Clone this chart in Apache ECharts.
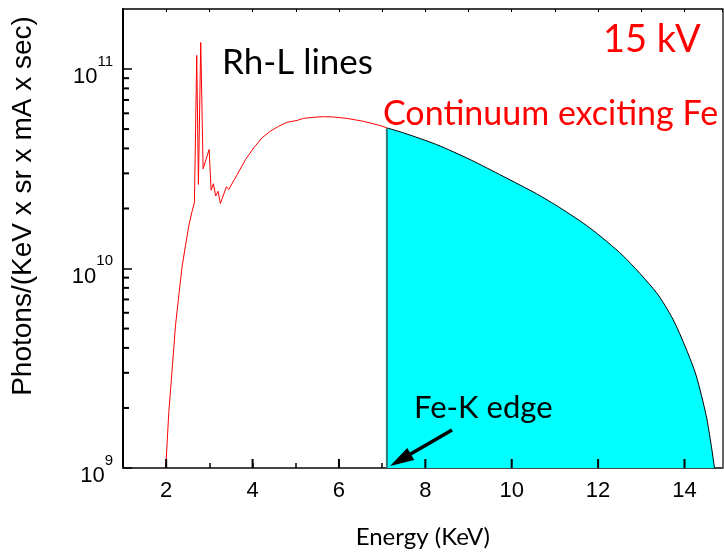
<!DOCTYPE html>
<html><head><meta charset="utf-8">
<script src="https://cdn.jsdelivr.net/npm/echarts@6/dist/echarts.min.js"></script>
<style>html,body{margin:0;padding:0;background:#fff}#c{width:724px;height:554px}</style>
</head><body><div id="c"></div>
<script>
// Red spectrum (below the Fe-K edge), keV and photons
const redEnergy = [1.99, 2.06, 2.139, 2.215, 2.291, 2.37, 2.446, 2.522, 2.601, 2.654, 2.707, 2.746, 2.80, 2.855, 2.994, 3.04, 3.093, 3.146, 3.20, 3.255, 3.394, 3.447, 3.645, 3.837, 4.029, 4.22, 4.41, 4.607, 4.80, 5.032, 5.18, 5.41, 5.642, 5.873, 6.18, 6.567, 6.952, 7.11];
const redIntensity = [1.0e9, 1.9e9, 3.14e9, 5.16e9, 7.3e9, 1.03e10, 1.30e10, 1.63e10, 1.94e10, 2.15e10, 1.17e11, 2.64e10, 1.36e11, 3.16e10, 3.95e10, 2.47e10, 2.66e10, 2.31e10, 2.44e10, 2.12e10, 2.57e10, 2.49e10, 2.96e10, 3.52e10, 4.03e10, 4.52e10, 4.88e10, 5.17e10, 5.41e10, 5.53e10, 5.66e10, 5.73e10, 5.77e10, 5.75e10, 5.66e10, 5.47e10, 5.21e10, 5.07e10];
// Continuum exciting Fe (above the edge)
const fillEnergy = [7.11, 7.491, 8.263, 9.033, 9.80, 10.574, 11.112, 11.806, 12.575, 13.347, 13.731, 14.04, 14.272, 14.503, 14.619, 14.695];
const fillIntensity = [5.07e10, 4.79e10, 4.18e10, 3.52e10, 2.90e10, 2.37e10, 2.02e10, 1.60e10, 1.16e10, 7.59e9, 5.58e9, 3.95e9, 2.90e9, 1.83e9, 1.30e9, 1.0e9];
const edgeEnergy = 7.11;
const xMajorTicks = [2, 4, 6, 8, 10, 12, 14];
const yMajorTicks = [1e9, 1e10, 1e11];
const yMinorTicks = [2e9, 3e9, 4e9, 5e9, 6e9, 7e9, 8e9, 9e9, 2e10, 3e10, 4e10, 5e10, 6e10, 7e10, 8e10, 9e10];

const zip = (a, b) => a.map((v, i) => [v, b[i]]);
const X_MIN = 1, X_MAX = 14.88, Y_MIN = 1e9, Y_MAX = 2e11;
const sans = 'Liberation Sans';
const txt = 'Lato';

const chart = echarts.init(document.getElementById('c'), null, {renderer: 'canvas'});
const annotations = [
  {type: 'text', z: 100, x: 23, y: 206, rotation: Math.PI / 2,
    style: {text: 'Photons/(KeV x sr x mA x sec)', font: '28px "Liberation Sans"', fill: '#000', align: 'center', verticalAlign: 'middle'}},
  {type: 'text', z: 100, x: 222, y: 63, style: {text: 'Rh-L lines', font: '35px Lato', fill: '#000', align: 'left', verticalAlign: 'middle'}},
  {type: 'text', z: 100, x: 603, y: 40, style: {text: '15 kV', font: '38px Lato', fill: '#FF0000', align: 'left', verticalAlign: 'middle'}},
  {type: 'text', z: 100, x: 383, y: 114, style: {text: 'Continuum exciting Fe', font: '34px Lato', fill: '#FF0000', align: 'left', verticalAlign: 'middle'}},
  {type: 'text', z: 100, x: 414, y: 408, style: {text: 'Fe-K edge', font: '31px Lato', fill: '#000', align: 'left', verticalAlign: 'middle'}},
  {type: 'line', z: 100, shape: {x1: 452, y1: 430, x2: 408, y2: 455.5}, style: {stroke: '#000', lineWidth: 3.5}},
  {type: 'polygon', z: 100, shape: {points: [[390, 466], [414.3, 460.0], [407.3, 447.9]]}, style: {fill: '#000'}}
];
chart.setOption({
  animation: false,
  grid: {left: 123, right: 1.5, top: 9, bottom: 84.5, show: false},
  xAxis: [
    {type: 'value', min: X_MIN, max: X_MAX, interval: 1, position: 'bottom', splitLine: {show: false},
      axisLine: {show: true, lineStyle: {color: '#444', width: 2}},
      axisTick: {show: true, inside: true, length: 5, lineStyle: {color: '#000', width: 1.5}},
      axisLabel: {show: true, margin: 12, fontSize: 22, color: '#000', fontFamily: sans,
        showMinLabel: false, showMaxLabel: false,
        formatter: v => (xMajorTicks.indexOf(v) >= 0 ? String(v) : '')},
      name: 'Energy (KeV)', nameLocation: 'middle', nameGap: 57,
      nameTextStyle: {fontFamily: txt, fontSize: 24, color: '#000'}},
    {type: 'value', min: X_MIN, max: X_MAX, interval: 1, position: 'top', splitLine: {show: false},
      axisLine: {show: true, lineStyle: {color: '#000', width: 1.5}},
      axisTick: {show: true, inside: true, length: 3, lineStyle: {color: '#000', width: 1}},
      axisLabel: {show: false}}
  ],
  yAxis: [
    {type: 'log', logBase: 10, min: Y_MIN, max: Y_MAX, position: 'left', splitLine: {show: false},
      axisLine: {show: true, lineStyle: {color: '#000', width: 2}},
      axisTick: {show: true, inside: true, length: 9, lineStyle: {color: '#000', width: 1.5}},
      axisLabel: {show: true, margin: 10, showMaxLabel: false,
        formatter: v => (yMajorTicks.indexOf(v) >= 0 ? '{b|10}{s|' + Math.round(Math.log10(v)) + '}' : ''),
        rich: {b: {fontSize: 22, fontFamily: sans, color: '#000', verticalAlign: 'bottom', lineHeight: 30, padding: [0, 0, -4, 0]},
               s: {fontSize: 15, fontFamily: sans, color: '#000', verticalAlign: 'top', lineHeight: 30}}}},
    {type: 'log', logBase: 10, min: Y_MIN, max: Y_MAX, position: 'right', splitLine: {show: false},
      axisLine: {show: true, lineStyle: {color: '#333', width: 1.5}},
      axisTick: {show: false}, axisLabel: {show: false}}
  ],
  series: [
    {type: 'line', name: 'fill', data: zip(fillEnergy, fillIntensity), showSymbol: false, smooth: 0.25,
      lineStyle: {color: '#000', width: 1}, areaStyle: {color: '#00FFFF', opacity: 1, origin: 'start'}, z: 2},
    {type: 'line', name: 'edge', data: [[edgeEnergy, Y_MIN], [edgeEnergy, fillIntensity[0]]], showSymbol: false,
      lineStyle: {color: '#2b7c7c', width: 2}, z: 3},
    {type: 'line', name: 'spectrum', data: zip(redEnergy, redIntensity), showSymbol: false,
      lineStyle: {color: '#FF0000', width: 1}, z: 4}
  ],
  graphic: annotations
});

// Longer major ticks on x and minor log ticks on y, placed through the axis scales
const xPx = v => chart.convertToPixel({xAxisIndex: 0}, v);
const yPx = v => chart.convertToPixel({yAxisIndex: 0}, v);
const ticks = [];
xMajorTicks.forEach(v => {
  const x = xPx(v), y = yPx(Y_MIN);
  ticks.push({type: 'rect', z: 95, shape: {x: x - 1, y: y - 9, width: 2, height: 9}, style: {fill: '#000'}});
});
yMinorTicks.forEach(v => {
  const x = xPx(X_MIN), y = yPx(v);
  ticks.push({type: 'rect', z: 95, shape: {x: x, y: y - 1, width: 6, height: 2}, style: {fill: '#000'}});
});
chart.setOption({graphic: annotations.concat(ticks)}, {replaceMerge: ['graphic']});
</script></body></html>
